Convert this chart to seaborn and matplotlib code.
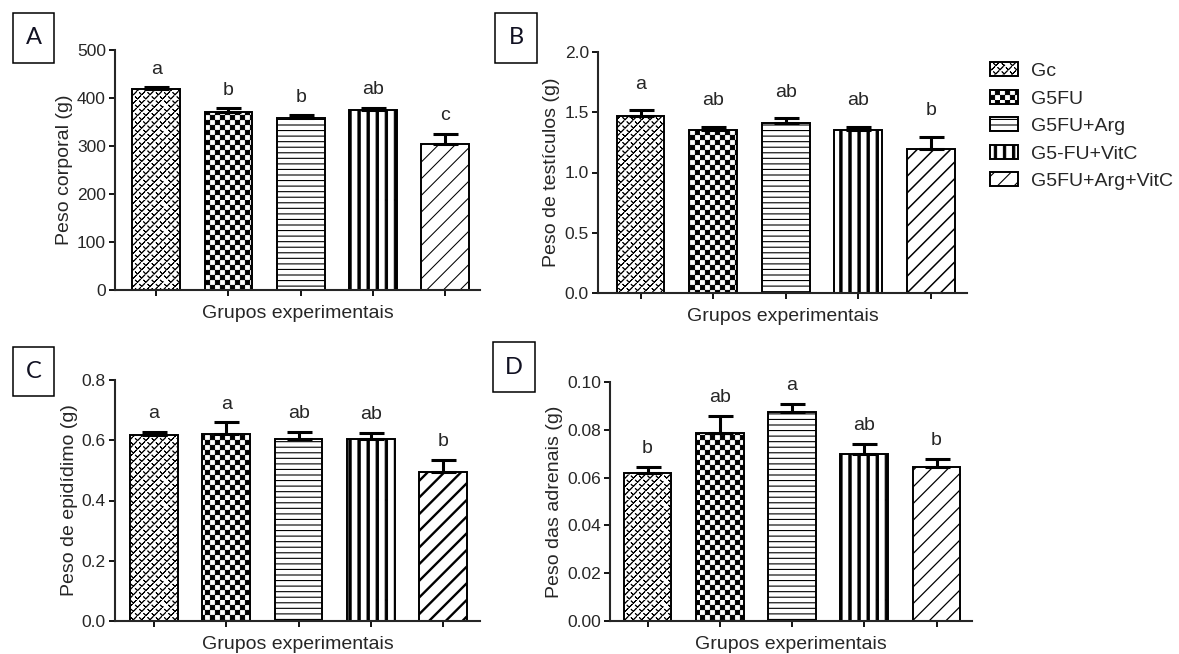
import warnings
warnings.filterwarnings('ignore')
import numpy as np
import pandas as pd
import matplotlib
matplotlib.use('Agg')
import matplotlib.pyplot as plt
import matplotlib.hatch as mhatch
from matplotlib.path import Path
from matplotlib.patches import Patch, Rectangle
import seaborn as sns

# ---------------- data ----------------
groups = ['Gc', 'G5FU', 'G5FU+Arg', 'G5-FU+VitC', 'G5FU+Arg+VitC']

peso_corporal = [418, 371, 358, 374, 305]
peso_corporal_err = [4, 8, 7, 6, 21]
letras_corporal = ['a', 'b', 'b', 'ab', 'c']
yticks_corporal = [0, 100, 200, 300, 400, 500]

peso_testiculos = [1.47, 1.355, 1.41, 1.355, 1.195]
peso_testiculos_err = [0.045, 0.023, 0.04, 0.023, 0.10]
letras_testiculos = ['a', 'ab', 'ab', 'ab', 'b']
yticks_testiculos = [0.0, 0.5, 1.0, 1.5, 2.0]

peso_epididimo = [0.617, 0.621, 0.604, 0.604, 0.493]
peso_epididimo_err = [0.010, 0.038, 0.024, 0.020, 0.042]
letras_epididimo = ['a', 'a', 'ab', 'ab', 'b']
yticks_epididimo = [0.0, 0.2, 0.4, 0.6, 0.8]

peso_adrenais = [0.0618, 0.0788, 0.0873, 0.0697, 0.0646]
peso_adrenais_err = [0.0025, 0.0070, 0.0035, 0.0044, 0.0031]
letras_adrenais = ['b', 'ab', 'a', 'ab', 'b']
yticks_adrenais = [0.00, 0.02, 0.04, 0.06, 0.08, 0.10]

# ---------------- custom hatch patterns ----------------
SQ_CODES = [Path.MOVETO, Path.LINETO, Path.LINETO, Path.LINETO, Path.CLOSEPOLY]


class _Checker(mhatch.HatchPatternBase):
    def __init__(self, hatch, density):
        self.n = hatch.count('c')
        self.num_vertices = 5 * 2 * self.n ** 2

    def set_vertices_and_codes(self, vertices, codes):
        m = 2 * self.n
        s = 1.0 / m
        ins = 0.08
        sq = np.array([[ins, ins], [1 - ins, ins], [1 - ins, 1 - ins],
                       [ins, 1 - ins], [ins, ins]]) * s
        parts = [sq + [i * s, j * s] for i in range(m) for j in range(m)
                 if (i + j) % 2 == 0]
        vertices[:] = np.concatenate(parts)
        codes[:] = np.tile(SQ_CODES, len(parts))


class _VStripes(mhatch.HatchPatternBase):
    def __init__(self, hatch, density):
        self.n = hatch.count('l')
        self.num_vertices = 5 * self.n

    def set_vertices_and_codes(self, vertices, codes):
        p = 1.0 / self.n
        w = 0.26 * p
        parts = []
        for i in range(self.n):
            x0 = i * p + 0.5 * p - w / 2
            parts.append(np.array([[x0, 0], [x0 + w, 0], [x0 + w, 1],
                                   [x0, 1], [x0, 0]]))
        vertices[:] = np.concatenate(parts)
        codes[:] = np.tile(SQ_CODES, self.n)


class _Chevrons(mhatch.HatchPatternBase):
    def __init__(self, hatch, density):
        self.nx = hatch.count('v')
        self.ny = 2 * self.nx
        if self.nx == 0:
            self.num_vertices = 0
        else:
            cnt = 0
            for j in range(self.ny):
                cnt += self.nx if j % 2 == 0 else self.nx + 1
            self.num_vertices = 5 * cnt

    def set_vertices_and_codes(self, vertices, codes):
        dx = 1.0 / self.nx
        dy = 1.0 / self.ny
        v = np.array([[-0.25 * dx, 0.25 * dy], [0, -0.25 * dy], [0.25 * dx, 0.25 * dy],
                      [0, -0.25 * dy], [-0.25 * dx, 0.25 * dy]])
        parts = []
        for j in range(self.ny):
            yc = (j + 0.5) * dy
            if j % 2 == 0:
                xs = [(i + 0.5) * dx for i in range(self.nx)]
            else:
                xs = [i * dx for i in range(self.nx + 1)]
            for xc in xs:
                parts.append(v + [xc, yc])
        vertices[:] = np.concatenate(parts)
        codes[:] = np.tile([Path.MOVETO, Path.LINETO, Path.LINETO,
                            Path.LINETO, Path.LINETO], len(parts))


mhatch._hatch_types.extend([_Checker, _VStripes, _Chevrons])
mhatch._validate_hatch_pattern = lambda h: None

hatches = ['v' * 12, 'c' * 10, '---', 'l' * 11, '//']
hatch_lw = [0.65, 0.7, 0.8, 0.7, 0.8]


def set_hlw(patch, lw):
    if hasattr(patch, 'set_hatch_linewidth'):
        try:
            patch.set_hatch_linewidth(lw)
        except Exception:
            pass


# ---------------- style ----------------
sns.set_style('ticks')
plt.rcParams['font.family'] = ['Liberation Sans', 'DejaVu Sans']
plt.rcParams['hatch.linewidth'] = 0.8
plt.rcParams['hatch.color'] = 'black'

W, H = 1179, 654
fig = plt.figure(figsize=(W / 100, H / 100), dpi=100)


def px_axes(l, t, r, b):
    return fig.add_axes([l / W, 1 - b / H, (r - l) / W, (b - t) / H])


panels = [
    dict(box=(115, 50, 480, 290), xlim=(-0.57, 4.48), vals=peso_corporal,
         err=peso_corporal_err, letters=letras_corporal, yt=yticks_corporal,
         fmt='{:.0f}', ylabel='Peso corporal (g)', pad=9.5, diag_lw=0.75,
         tag='A', tagbox=(13, 13, 54, 63)),
    dict(box=(598, 52, 967, 293), xlim=(-0.586, 4.50), vals=peso_testiculos,
         err=peso_testiculos_err, letters=letras_testiculos, yt=yticks_testiculos,
         fmt='{:.1f}', ylabel='Peso de testículos (g)', pad=15.5, diag_lw=1.1,
         tag='B', tagbox=(495, 13, 537, 63)),
    dict(box=(115, 380, 480, 621), xlim=(-0.54, 4.51), vals=peso_epididimo,
         err=peso_epididimo_err, letters=letras_epididimo, yt=yticks_epididimo,
         fmt='{:.1f}', ylabel='Peso de epidídimo (g)', pad=10, diag_lw=1.7,
         tag='C', tagbox=(13, 347, 54, 396)),
    dict(box=(610, 382, 972, 621), xlim=(-0.52, 4.49), vals=peso_adrenais,
         err=peso_adrenais_err, letters=letras_adrenais, yt=yticks_adrenais,
         fmt='{:.2f}', ylabel='Peso das adrenais (g)', pad=10, diag_lw=0.9,
         tag='D', tagbox=(493, 342, 535, 392)),
]

for p in panels:
    ax = px_axes(*p['box'])
    df = pd.DataFrame({'grupo': groups, 'valor': p['vals']})
    sns.barplot(data=df, x='grupo', y='valor', hue='grupo', order=groups,
                hue_order=groups, palette=['white'] * 5, edgecolor='black',
                linewidth=1.4, width=0.66, errorbar=None, legend=False,
                saturation=1, ax=ax)
    for k, (patch, h) in enumerate(zip(ax.patches, hatches)):
        patch.set_hatch(h)
        patch.set_facecolor('white')
        patch.set_edgecolor('black')
        set_hlw(patch, p['diag_lw'] if k == 4 else hatch_lw[k])
    xs = np.arange(len(groups))
    ax.errorbar(xs, p['vals'], yerr=[np.zeros(5), p['err']], fmt='none',
                ecolor='black', elinewidth=2.2, capsize=9, capthick=2.2,
                zorder=3)
    for i, (v, e, lt) in enumerate(zip(p['vals'], p['err'], p['letters'])):
        ax.annotate(lt, xy=(i, v + e), xytext=(0, p['pad']),
                    textcoords='offset points', ha='center', va='baseline',
                    fontsize=14)
    ax.set_xlim(*p['xlim'])
    ax.set_ylim(p['yt'][0], p['yt'][-1])
    ax.set_yticks(p['yt'])
    ax.set_yticklabels([p['fmt'].format(t) for t in p['yt']], fontsize=12.5)
    ax.set_xticks(xs)
    ax.set_xticklabels([])
    ax.set_xlabel('Grupos experimentais', fontsize=14, labelpad=4)
    ax.set_ylabel(p['ylabel'], fontsize=14, labelpad=3)
    sns.despine(ax=ax)
    for sp in ['left', 'bottom']:
        ax.spines[sp].set_linewidth(1.5)
    ax.tick_params(axis='both', direction='out', length=4.5, width=1.3,
                   pad=2, color='black')
    # panel tag
    l, t, r, b = p['tagbox']
    fig.add_artist(Rectangle((l / W, 1 - b / H), (r - l) / W, (b - t) / H,
                             transform=fig.transFigure, fill=False,
                             edgecolor='black', linewidth=1.1))
    fig.text((l + r) / 2 / W, 1 - (t + b) / 2 / H, p['tag'], ha='center',
             va='center', fontsize=17, family=['Lato', 'DejaVu Sans'],
             color='#111122')

handles = []
for k, h in enumerate(hatches):
    hp = Patch(facecolor='white', edgecolor='black', hatch=h, linewidth=1.4)
    set_hlw(hp, hatch_lw[k])
    handles.append(hp)
leg = fig.legend(handles, groups, loc='upper left',
                 bbox_to_anchor=(990 / W, 1 - 62.5 / H), frameon=False,
                 borderpad=0, borderaxespad=0, handlelength=1.44,
                 handleheight=0.72, handletextpad=0.69, labelspacing=0.5,
                 fontsize=14)
for k, hp in enumerate(leg.get_patches()):
    set_hlw(hp, hatch_lw[k])

fig.savefig('out.png', dpi=100)
